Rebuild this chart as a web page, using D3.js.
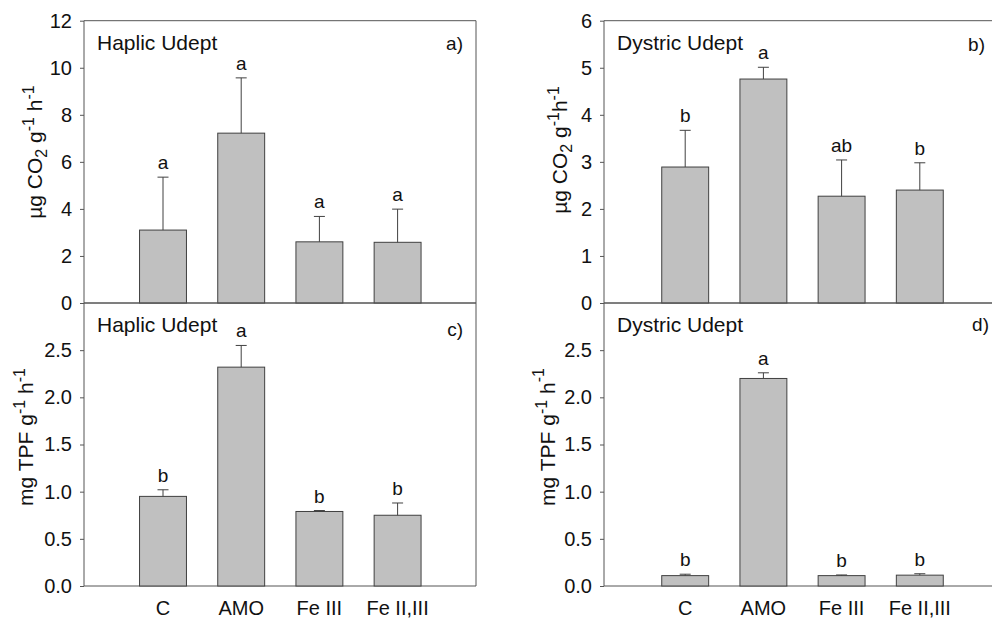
<!DOCTYPE html>
<html><head><meta charset="utf-8">
<script src="https://cdn.jsdelivr.net/npm/d3@7"></script>
<style>
body{margin:0;background:#fff;}
svg{display:block;font-family:Arial,"Liberation Sans",sans-serif;}
</style></head>
<body><svg id="c" width="992" height="619"></svg>
<script>
const categories = ["C","AMO","Fe III","Fe II,III"];
const co2HaplicMean = [3.10, 7.22, 2.60, 2.58];
const co2HaplicSE   = [2.25, 2.35, 1.08, 1.41];
const co2HaplicLetters = ["a","a","a","a"];
const co2DystricMean = [2.89, 4.76, 2.27, 2.40];
const co2DystricSE   = [0.78, 0.25, 0.77, 0.58];
const co2DystricLetters = ["b","a","ab","b"];
const tpfHaplicMean = [0.95, 2.32, 0.79, 0.75];
const tpfHaplicSE   = [0.07, 0.23, 0.01, 0.13];
const tpfHaplicLetters = ["b","a","b","b"];
const tpfDystricMean = [0.11, 2.20, 0.11, 0.115];
const tpfDystricSE   = [0.015, 0.06, 0.007, 0.015];
const tpfDystricLetters = ["b","a","b","b"];
const co2HaplicTicks = [0,2,4,6,8,10,12];
const co2DystricTicks = [0,1,2,3,4,5,6];
const tpfTicks = [0,0.5,1.0,1.5,2.0,2.5];

const svg = d3.select("#c");
const axisColor = "#555";

function panel(o){
  const g = svg.append("g");
  const x = d3.scaleLinear().domain([0,5]).range([o.sx0, o.sx1]);
  const y = d3.scaleLinear().domain([0,o.ymax]).range([o.y0, o.y1]);
  g.append("line").attr("x1",o.fx0).attr("x2",o.fx1).attr("y1",o.y1).attr("y2",o.y1).attr("stroke",axisColor);
  g.append("line").attr("x1",o.fx0).attr("x2",o.fx1).attr("y1",o.y0).attr("y2",o.y0).attr("stroke",axisColor);
  if (o.rightBorder) g.append("line").attr("x1",o.fx1).attr("x2",o.fx1).attr("y1",o.y1).attr("y2",o.y0).attr("stroke",axisColor);
  const ax = g.append("g").attr("transform",`translate(${o.fx0},0)`)
    .call(d3.axisLeft(y).tickValues(o.ticks).tickSize(4).tickPadding(8).tickFormat(o.fmt));
  ax.select(".domain").attr("stroke",axisColor).attr("d",`M-0,${o.y0}V${o.y1}`);
  ax.selectAll(".tick line").attr("stroke",axisColor);
  ax.selectAll(".tick text").attr("font-size","20px").attr("fill","#111").attr("font-family","Arial,'Liberation Sans',sans-serif");
  const bw = x(0.6)-x(0);
  const idx = d3.range(categories.length);
  g.selectAll("rect.bar").data(idx).join("rect")
    .attr("x", i=>x(i+1)-bw/2).attr("width",bw)
    .attr("y", i=>y(o.mean[i])).attr("height", i=>y(0)-y(o.mean[i]))
    .attr("fill","#c0c0c0").attr("stroke","#404040").attr("stroke-width",1);
  g.selectAll("line.err").data(idx).join("line")
    .attr("x1",i=>x(i+1)).attr("x2",i=>x(i+1))
    .attr("y1",i=>y(o.mean[i])).attr("y2",i=>y(o.mean[i]+o.se[i]))
    .attr("stroke","#404040");
  g.selectAll("line.cap").data(idx).join("line")
    .attr("x1",i=>x(i+1)-5.5).attr("x2",i=>x(i+1)+5.5)
    .attr("y1",i=>y(o.mean[i]+o.se[i])).attr("y2",i=>y(o.mean[i]+o.se[i]))
    .attr("stroke","#404040");
  g.selectAll("text.let").data(idx).join("text")
    .attr("x",i=>x(i+1)).attr("y",i=>y(o.mean[i]+o.se[i])-8)
    .attr("text-anchor","middle").attr("font-size","19px").attr("fill","#111")
    .text(i=>o.letters[i]);
  g.append("text").attr("x",o.fx0+13).attr("y",o.y1+29).attr("font-size","21px").attr("fill","#111").text(o.title);
  g.append("text").attr("x",o.labX).attr("y",o.labY).attr("text-anchor","end").attr("font-size","19px").attr("fill","#111").text(o.label);
  const t = g.append("text").attr("transform",`translate(${o.ytX},${o.ytY}) rotate(-90)`)
    .attr("text-anchor","middle").attr("font-size","21px").attr("fill","#111");
  o.ytParts.forEach(p=>{
    const ts = t.append("tspan").text(p.t);
    if (p.sup){ ts.attr("font-size","16px").attr("dy",p.up||-8); }
    else if (p.sub){ ts.attr("font-size","16px").attr("dy",5); }
    if (p.back) ts.attr("dy", p.back);
  });
  if (o.xlabels){
    g.selectAll("text.xl").data(idx).join("text")
      .attr("x",i=>x(i+1)).attr("y",615).attr("text-anchor","middle")
      .attr("font-size","20px").attr("fill","#111").text(i=>categories[i]);
  }
}

const co2Parts = (space)=>[
  {t:"µg CO"},{t:"2",sub:true},{t:" g",back:-5},{t:"-1",sup:true},{t:space?" h":"h",back:8},{t:"-1",sup:true}
];
const tpfPartsC = [
  {t:"mg TPF g"},{t:"-1",sup:true},{t:" h",back:8},{t:"-1",sup:true}
];
const tpfPartsD = [
  {t:"mg TPF g"},{t:"-1",sup:true},{t:" h",back:8},{t:"-1",sup:true,up:-11}
];

panel({sx0:84.8,sx1:475.8,fx0:84,fx1:476,y0:303,y1:20.7,ymax:12,ticks:co2HaplicTicks,fmt:d3.format("d"),
  mean:co2HaplicMean,se:co2HaplicSE,letters:co2HaplicLetters,title:"Haplic Udept",label:"a)",labX:463,labY:50,
  rightBorder:true,ytX:42,ytY:152,ytParts:co2Parts(true),xlabels:false});
panel({sx0:607,sx1:998,fx0:604,fx1:1000,y0:303,y1:20.7,ymax:6,ticks:co2DystricTicks,fmt:d3.format("d"),
  mean:co2DystricMean,se:co2DystricSE,letters:co2DystricLetters,title:"Dystric Udept",label:"b)",labX:985,labY:51,
  rightBorder:false,ytX:567,ytY:150,ytParts:co2Parts(false),xlabels:false});
panel({sx0:84.8,sx1:475.8,fx0:84,fx1:476,y0:586,y1:303,ymax:3,ticks:tpfTicks,fmt:d3.format(".1f"),
  mean:tpfHaplicMean,se:tpfHaplicSE,letters:tpfHaplicLetters,title:"Haplic Udept",label:"c)",labX:463,labY:336,
  rightBorder:true,ytX:33,ytY:437,ytParts:tpfPartsC,xlabels:true});
panel({sx0:607,sx1:998,fx0:604,fx1:1000,y0:586,y1:303,ymax:3,ticks:tpfTicks,fmt:d3.format(".1f"),
  mean:tpfDystricMean,se:tpfDystricSE,letters:tpfDystricLetters,title:"Dystric Udept",label:"d)",labX:989,labY:331,
  rightBorder:false,ytX:555,ytY:437,ytParts:tpfPartsD,xlabels:true});
</script></body></html>
